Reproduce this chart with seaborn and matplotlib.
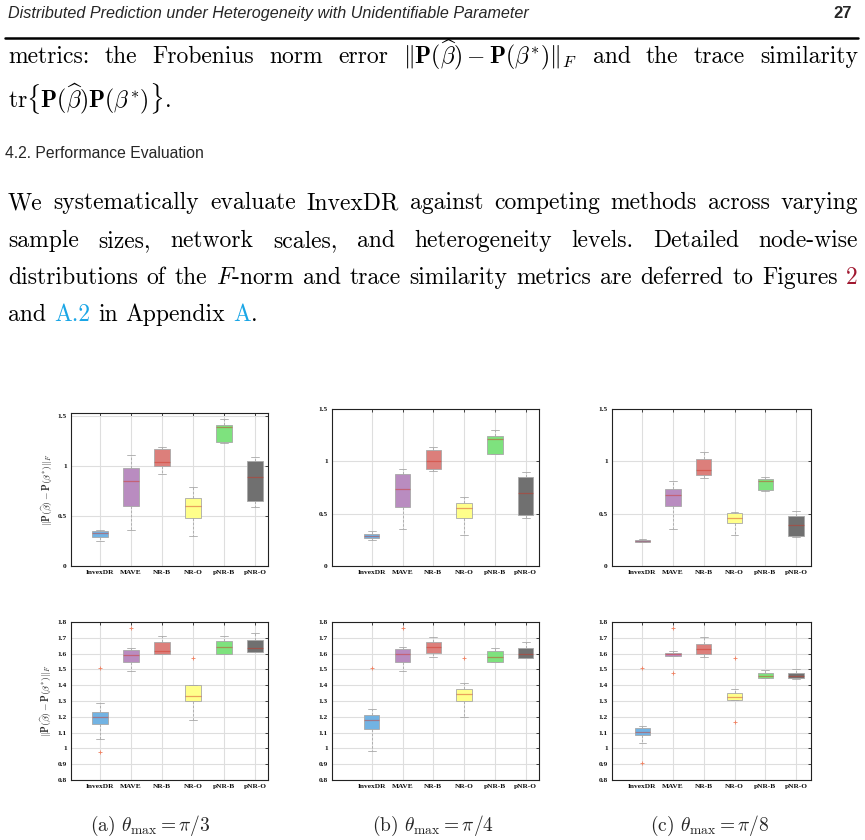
import numpy as np
import pandas as pd
import matplotlib
matplotlib.use("Agg")
import matplotlib.pyplot as plt
import seaborn as sns
from matplotlib.ticker import FuncFormatter, MultipleLocator

W, H = 865, 840

methods = ["InvexDR", "MAVE", "NR-B", "NR-O", "pNR-B", "pNR-O"]
box_colors = ["#72b3e3", "#b98cc0", "#dc7f7b", "#ffff8a", "#7ee27e", "#707070"]

# (lower whisker, q1, median, q3, upper whisker) for each method
top_pi3 = [(0.25, 0.29, 0.33, 0.35, 0.36), (0.36, 0.60, 0.85, 0.98, 1.11),
           (0.92, 1.00, 1.04, 1.17, 1.19), (0.30, 0.48, 0.60, 0.68, 0.79),
           (1.23, 1.24, 1.39, 1.41, 1.47), (0.59, 0.65, 0.89, 1.05, 1.09)]
top_pi4 = [(0.25, 0.265, 0.29, 0.31, 0.33), (0.35, 0.56, 0.735, 0.88, 0.93),
           (0.91, 0.93, 1.00, 1.11, 1.14), (0.30, 0.46, 0.55, 0.60, 0.66),
           (1.07, 1.07, 1.21, 1.24, 1.30), (0.46, 0.49, 0.70, 0.85, 0.90)]
top_pi8 = [(0.23, 0.233, 0.243, 0.25, 0.26), (0.35, 0.57, 0.68, 0.735, 0.81),
           (0.84, 0.87, 0.92, 1.02, 1.09), (0.30, 0.41, 0.46, 0.51, 0.515),
           (0.72, 0.725, 0.815, 0.83, 0.85), (0.275, 0.285, 0.39, 0.48, 0.525)]
bot_pi3 = [(1.06, 1.153, 1.20, 1.23, 1.29), (1.49, 1.547, 1.594, 1.623, 1.636),
           (1.596, 1.60, 1.617, 1.672, 1.713), (1.177, 1.30, 1.33, 1.40, 1.40),
           (1.595, 1.595, 1.64, 1.68, 1.713), (1.608, 1.608, 1.636, 1.685, 1.73)]
bot_pi4 = [(0.985, 1.12, 1.18, 1.213, 1.247), (1.49, 1.545, 1.60, 1.63, 1.64),
           (1.577, 1.604, 1.64, 1.672, 1.705), (1.20, 1.302, 1.343, 1.379, 1.413),
           (1.547, 1.547, 1.58, 1.615, 1.636), (1.572, 1.572, 1.60, 1.636, 1.675)]
bot_pi8 = [(1.036, 1.087, 1.106, 1.132, 1.143), (1.585, 1.585, 1.598, 1.606, 1.617),
           (1.577, 1.596, 1.63, 1.662, 1.705), (1.306, 1.309, 1.328, 1.349, 1.375),
           (1.443, 1.443, 1.46, 1.479, 1.498), (1.438, 1.443, 1.46, 1.479, 1.50)]

# outliers (method, value)
out_bot_pi3 = [("InvexDR", 1.51), ("InvexDR", 0.98), ("MAVE", 1.76), ("NR-O", 1.57)]
out_bot_pi4 = [("InvexDR", 1.506), ("MAVE", 1.76), ("NR-O", 1.57)]
out_bot_pi8 = [("InvexDR", 1.508), ("InvexDR", 0.91), ("MAVE", 1.76), ("MAVE", 1.477),
               ("NR-O", 1.57), ("NR-O", 1.164)]

captions = [r"(a) $\theta_{\max} = \pi/3$", r"(b) $\theta_{\max} = \pi/4$", r"(c) $\theta_{\max} = \pi/8$"]

plt.rcParams["mathtext.fontset"] = "cm"
sns.set_style("white")

fig = plt.figure(figsize=(W / 100, H / 100), dpi=100)


def px_axes(l, t, r, b):
    return fig.add_axes([l / W, 1 - b / H, (r - l) / W, (b - t) / H])


ylabel = r"$\|\mathbf{P}(\widehat{\beta}) - \mathbf{P}(\beta^{*})\|_F$"
cols = [(71, 268, (-0.93, 5.41)), (332, 539, (-1.29, 5.43)), (612, 811, (-0.99, 5.49))]
rows = [([top_pi3, top_pi4, top_pi8], [None, None, None], [(413, 566, 1.525), (409, 566, 1.5), (409, 566, 1.5)]),
        ([bot_pi3, bot_pi4, bot_pi8], [out_bot_pi3, out_bot_pi4, out_bot_pi8], [(622, 780, 1.8)] * 3)]

for r, (stats, outs, geom) in enumerate(rows):
    for c in range(3):
        left, right, xl = cols[c]
        top, bottom, ytop = geom[c]
        ax = px_axes(left, top, right, bottom)
        df = pd.DataFrame([(m, v) for m, s in zip(methods, stats[c]) for v in s],
                          columns=["method", "value"])
        sns.boxplot(data=df, x="method", y="value", hue="method", order=methods,
                    hue_order=methods, palette=box_colors, legend=False, ax=ax,
                    whis=(0, 100), width=0.5, saturation=1, linecolor="#a8a8a8",
                    linewidth=0.6, whiskerprops={"linestyle": (0, (3, 2))},
                    medianprops={"color": "#d03020", "alpha": 0.45, "linewidth": 0.9},
                    zorder=3)
        if outs[c]:
            om = [o[0] for o in outs[c]]
            ov = [o[1] for o in outs[c]]
            sns.stripplot(x=om, y=ov, order=methods, jitter=False, marker="+",
                          color="#f08060", size=3, linewidth=0.6, ax=ax, zorder=4)
        ax.set_xlim(*xl)
        if r == 0:
            ax.set_ylim(0, ytop)
            ax.yaxis.set_major_locator(MultipleLocator(0.5))
        else:
            ax.set_ylim(0.8, 1.8)
            ax.yaxis.set_major_locator(MultipleLocator(0.1))
        ax.yaxis.set_major_formatter(FuncFormatter(lambda v, p: f"{v:g}"))
        ax.grid(True, color="#dedede", linewidth=0.8)
        ax.set_axisbelow(True)
        ax.tick_params(direction="in", length=2, width=0.6, top=True, right=True,
                       labelsize=5.3, pad=3, labelcolor="#111111")
        for lbl in ax.get_xticklabels() + ax.get_yticklabels():
            lbl.set_fontfamily("Liberation Serif")
            lbl.set_fontweight("bold")
        for sp in ax.spines.values():
            sp.set_color("#222222")
            sp.set_linewidth(0.8)
        ax.set_xlabel("")
        if c == 0:
            ax.set_ylabel(ylabel, fontsize=7, labelpad=3)
        else:
            ax.set_ylabel("")

for cap, cx in zip(captions, [150, 433, 710]):
    fig.text(cx / W, 1 - 831 / H, cap, fontsize=14, family="cmr10", ha="center", va="baseline")

# page text
sans = ["Liberation Sans", "DejaVu Sans"]
fig.text(8 / W, 1 - 18 / H, "Distributed Prediction under Heterogeneity with Unidentifiable Parameter",
         fontsize=11.6, style="italic", family=sans, va="baseline")
fig.text(852 / W, 1 - 18 / H, "27", fontsize=12, weight="bold", family=sans, ha="right", va="baseline")
fig.add_artist(plt.Line2D([5 / W, 858 / W], [1 - 38 / H, 1 - 38 / H], color="black", linewidth=1.8))
fig.text(5 / W, 1 - 158 / H, "4.2. Performance Evaluation", fontsize=11.3, family=sans, va="baseline")

red, cyan = "#a01830", "#1aa6e6"
renderer = fig.canvas.get_renderer()


def put_line(tokens, ybase, x0=8, x1=858, justify=True, size=17):
    groups = []
    for tok in tokens:
        pieces = tok if isinstance(tok, list) else [(tok, "black")]
        arts = [fig.text(0, 1 - ybase / H, s, color=col, fontsize=size, family="cmr10",
                         va="baseline") for s, col in pieces]
        wids = [a.get_window_extent(renderer).width for a in arts]
        groups.append((arts, wids))
    total = sum(sum(w) for _, w in groups)
    if justify and len(groups) > 1:
        gap = (x1 - x0 - total) / (len(groups) - 1)
    else:
        gap = size * 100 / 72 * 0.333
    x = x0
    for arts, wids in groups:
        for a, w in zip(arts, wids):
            a.set_x(x / W)
            x += w
        x += gap


put_line(["metrics:", "the", "Frobenius", "norm", "error",
          r"$\|\mathbf{P}(\widehat{\beta}) - \mathbf{P}(\beta^{*})\|_F$",
          "and", "the", "trace", "similarity"], 63)
put_line([r"$\mathrm{tr}\left\{\mathbf{P}(\widehat{\beta})\mathbf{P}(\beta^{*})\right\}$."], 108, justify=False)
put_line("We systematically evaluate InvexDR against competing methods across varying".split(), 209)
put_line("sample sizes, network scales, and heterogeneity levels. Detailed node-wise".split(), 247)
put_line("distributions of the".split() + [r"$F$-norm"] +
         "and trace similarity metrics are deferred to Figures".split() + [[("2", red)]], 284)
put_line(["and", [("A.2", cyan)], "in", "Appendix", [("A", cyan), (".", "black")]], 321, justify=False)

fig.savefig("out.png", dpi=100)
